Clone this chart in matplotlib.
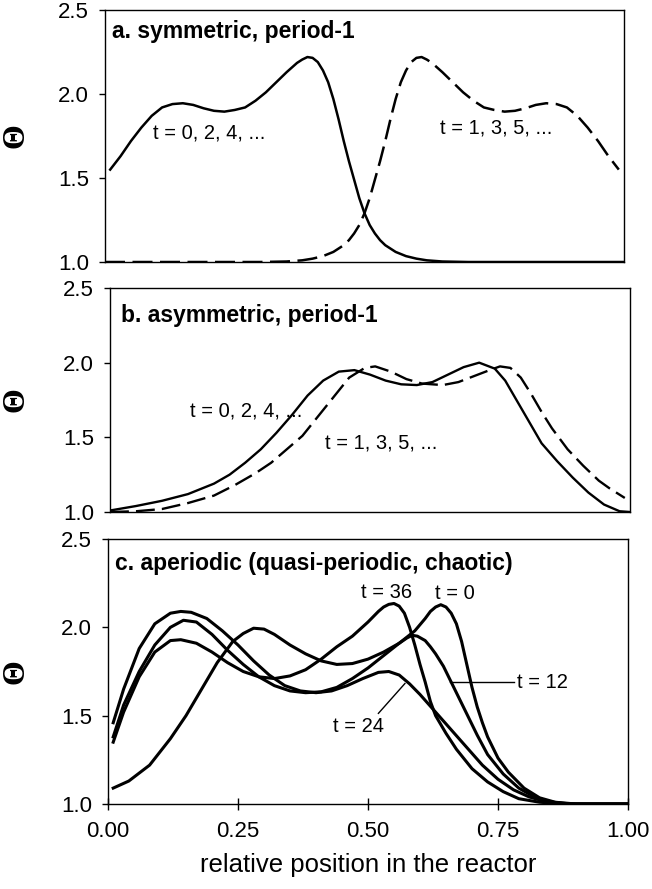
import matplotlib
matplotlib.use("Agg")
import matplotlib.pyplot as plt

plt.rcParams["font.family"] = ["Liberation Sans", "DejaVu Sans"]

# panel a: symmetric, period-1
xa_par = [0.01, 0.03, 0.05, 0.07, 0.09, 0.11, 0.13, 0.15, 0.17, 0.19, 0.21, 0.23, 0.25, 0.27, 0.29,
          0.31, 0.33, 0.35, 0.37, 0.38, 0.39, 0.40, 0.41, 0.42, 0.43, 0.44, 0.45, 0.46, 0.47, 0.48,
          0.49, 0.50, 0.51, 0.52, 0.53, 0.54, 0.56, 0.58, 0.60, 0.62, 0.65, 0.70, 0.80, 0.90, 1.00]
ya_par = [1.55, 1.63, 1.72, 1.80, 1.87, 1.92, 1.94, 1.945, 1.935, 1.915, 1.90, 1.895, 1.905, 1.92, 1.96,
          2.01, 2.07, 2.13, 2.185, 2.205, 2.22, 2.215, 2.19, 2.14, 2.07, 1.97, 1.85, 1.72, 1.60, 1.49,
          1.38, 1.29, 1.22, 1.17, 1.13, 1.10, 1.06, 1.035, 1.02, 1.01, 1.003, 1.0, 1.0, 1.0, 1.0]
xa_impar = [0.00, 0.10, 0.20, 0.30, 0.35, 0.38, 0.40, 0.42, 0.44, 0.46, 0.47, 0.48, 0.49, 0.50, 0.51,
            0.52, 0.53, 0.54, 0.55, 0.56, 0.57, 0.58, 0.59, 0.60, 0.61, 0.62, 0.63, 0.65, 0.67, 0.69,
            0.71, 0.73, 0.75, 0.77, 0.79, 0.81, 0.83, 0.85, 0.87, 0.89, 0.91, 0.93, 0.95, 0.97, 0.99]
ya_impar = [1.0, 1.0, 1.0, 1.0, 1.003, 1.01, 1.02, 1.035, 1.06, 1.10, 1.13, 1.17, 1.22, 1.29, 1.38,
            1.49, 1.60, 1.72, 1.85, 1.97, 2.07, 2.14, 2.19, 2.215, 2.22, 2.205, 2.185, 2.13, 2.07, 2.01,
            1.96, 1.92, 1.905, 1.895, 1.90, 1.915, 1.935, 1.945, 1.94, 1.92, 1.87, 1.80, 1.72, 1.63, 1.55]

# panel b: asymmetric, period-1
xb_par = [0.0, 0.05, 0.10, 0.15, 0.20, 0.23, 0.26, 0.29, 0.32, 0.35, 0.38, 0.41, 0.44, 0.47,
          0.50, 0.53, 0.56, 0.59, 0.62, 0.65, 0.68, 0.71, 0.74, 0.76, 0.78, 0.80, 0.83, 0.86,
          0.89, 0.92, 0.95, 0.98, 1.0]
yb_par = [1.01, 1.04, 1.075, 1.12, 1.19, 1.25, 1.33, 1.42, 1.53, 1.65, 1.78, 1.88, 1.94, 1.95,
          1.92, 1.88, 1.855, 1.85, 1.87, 1.92, 1.97, 2.0, 1.96, 1.88, 1.76, 1.64, 1.46, 1.34,
          1.23, 1.13, 1.05, 1.005, 1.0]
xb_impar = [0.0, 0.05, 0.10, 0.15, 0.20, 0.24, 0.28, 0.31, 0.34, 0.37, 0.40, 0.43, 0.46, 0.49,
            0.51, 0.54, 0.57, 0.60, 0.64, 0.67, 0.70, 0.73, 0.75, 0.77, 0.79, 0.81, 0.83, 0.85,
            0.88, 0.91, 0.94, 0.96, 0.99]
yb_impar = [1.0, 1.005, 1.02, 1.06, 1.11, 1.18, 1.26, 1.33, 1.42, 1.51, 1.64, 1.77, 1.90, 1.965,
            1.975, 1.94, 1.89, 1.86, 1.85, 1.87, 1.91, 1.95, 1.975, 1.965, 1.90, 1.79, 1.67, 1.56,
            1.42, 1.31, 1.21, 1.16, 1.094]

# panel c: aperiodic
xc_t0 = [0.01, 0.04, 0.08, 0.12, 0.15, 0.18, 0.21, 0.24, 0.26, 0.28, 0.30, 0.32, 0.35, 0.38, 0.41,
         0.44, 0.47, 0.50, 0.53, 0.56, 0.59, 0.61, 0.62, 0.63, 0.64, 0.65, 0.66, 0.67, 0.68, 0.69,
         0.70, 0.71, 0.72, 0.73, 0.75, 0.77, 0.80, 0.83, 0.86, 0.90, 1.0]
yc_t0 = [1.09, 1.13, 1.22, 1.37, 1.50, 1.65, 1.80, 1.92, 1.965, 1.995, 1.99, 1.96, 1.90, 1.85, 1.81,
         1.79, 1.795, 1.82, 1.86, 1.91, 1.98, 2.05, 2.09, 2.115, 2.128, 2.115, 2.08, 2.02, 1.92, 1.79,
         1.66, 1.55, 1.46, 1.38, 1.26, 1.18, 1.09, 1.035, 1.01, 1.0, 1.0]
xc_t12 = [0.01, 0.03, 0.06, 0.09, 0.12, 0.145, 0.17, 0.20, 0.23, 0.26, 0.29, 0.32, 0.35, 0.38,
          0.41, 0.44, 0.47, 0.50, 0.53, 0.56, 0.575, 0.585, 0.595, 0.61, 0.62, 0.63, 0.645, 0.66,
          0.675, 0.69, 0.71, 0.73, 0.76, 0.79, 0.82, 0.85, 0.89, 1.0]
yc_t12 = [1.38, 1.56, 1.75, 1.90, 2.00, 2.04, 2.03, 1.96, 1.87, 1.79, 1.72, 1.67, 1.64, 1.63,
          1.635, 1.66, 1.71, 1.77, 1.84, 1.91, 1.94, 1.955, 1.95, 1.925, 1.89, 1.85, 1.78, 1.69,
          1.60, 1.51, 1.39, 1.28, 1.17, 1.09, 1.04, 1.012, 1.0, 1.0]
xc_t24 = [0.01, 0.03, 0.06, 0.09, 0.12, 0.14, 0.16, 0.19, 0.22, 0.25, 0.28, 0.31, 0.34, 0.37,
          0.40, 0.43, 0.46, 0.49, 0.52, 0.54, 0.56, 0.58, 0.60, 0.63, 0.66, 0.69, 0.72, 0.75,
          0.78, 0.81, 0.84, 0.88, 1.0]
yc_t24 = [1.46, 1.65, 1.88, 2.02, 2.08, 2.09, 2.085, 2.05, 1.98, 1.90, 1.81, 1.73, 1.67, 1.64,
          1.63, 1.64, 1.67, 1.71, 1.745, 1.75, 1.73, 1.68, 1.62, 1.52, 1.42, 1.32, 1.22, 1.14,
          1.08, 1.04, 1.015, 1.0, 1.0]
xc_t36 = [0.01, 0.03, 0.06, 0.09, 0.12, 0.14, 0.17, 0.20, 0.23, 0.26, 0.29, 0.32, 0.35, 0.38,
          0.41, 0.44, 0.47, 0.50, 0.52, 0.53, 0.54, 0.55, 0.56, 0.57, 0.58, 0.59, 0.60, 0.61, 0.62,
          0.63, 0.65, 0.67, 0.70, 0.73, 0.76, 0.79, 0.83, 0.87, 0.92, 1.0]
yc_t36 = [1.35, 1.52, 1.72, 1.86, 1.925, 1.93, 1.91, 1.86, 1.80, 1.75, 1.72, 1.71, 1.725, 1.76,
          1.82, 1.89, 1.95, 2.03, 2.09, 2.115, 2.13, 2.135, 2.12, 2.08, 2.00, 1.90, 1.79, 1.69, 1.58,
          1.50, 1.40, 1.31, 1.20, 1.125, 1.07, 1.03, 1.01, 1.002, 1.0, 1.0]

y_ticks = [1.0, 1.5, 2.0, 2.5]
x_ticks = [0.0, 0.25, 0.5, 0.75, 1.0]
x_ticklabels = ["0.00", "0.25", "0.50", "0.75", "1.00"]

fig = plt.figure(figsize=(6.52, 8.89), dpi=100)
ax_a = fig.add_axes([105/652, 1-262/889, 519/652, 252/889])
ax_b = fig.add_axes([110/652, 1-512/889, 520/652, 224/889])
ax_c = fig.add_axes([108/652, 1-804/889, 520/652, 265/889])

guiones = (0, (8, 3))
fs_t = 14.5

ax_a.plot(xa_par, ya_par, color="black", lw=1.8)
ax_a.plot(xa_impar, ya_impar, color="black", lw=1.8, linestyle=guiones)
ax_a.text(0.092, 1.77, "t = 0, 2, 4, ...", fontsize=fs_t, va="center")
ax_a.text(0.645, 1.80, "t = 1, 3, 5, ...", fontsize=fs_t, va="center")

ax_b.plot(xb_par, yb_par, color="black", lw=1.7)
ax_b.plot(xb_impar, yb_impar, color="black", lw=1.7, linestyle=guiones)
ax_b.text(0.153, 1.676, "t = 0, 2, 4, ...", fontsize=fs_t, va="center")
ax_b.text(0.413, 1.463, "t = 1, 3, 5, ...", fontsize=fs_t, va="center")

for xs, ys in [(xc_t0, yc_t0), (xc_t12, yc_t12), (xc_t24, yc_t24), (xc_t36, yc_t36)]:
    ax_c.plot(xs, ys, color="black", lw=2.2)
ax_c.text(0.536, 2.196, "t = 36", fontsize=fs_t, ha="center", va="center")
ax_c.text(0.667, 2.19, "t = 0", fontsize=fs_t, ha="center", va="center")
ax_c.text(0.481, 1.437, "t = 24", fontsize=fs_t, ha="center", va="center")
ax_c.plot([0.52, 0.571], [1.513, 1.682], color="black", lw=1.0)
ax_c.text(0.786, 1.69, "t = 12", fontsize=fs_t, ha="left", va="center")
ax_c.plot([0.658, 0.78], [1.69, 1.69], color="black", lw=1.0)

titulos = ["a. symmetric, period-1", "b. asymmetric, period-1",
           "c. aperiodic (quasi-periodic, chaotic)"]
pos_titulo = [(0.014, 0.913), (0.021, 0.879), (0.013, 0.909)]
etiqueta_x = [-0.171, -0.181, -0.177]

for ax, titulo, pos, lx in zip([ax_a, ax_b, ax_c], titulos, pos_titulo, etiqueta_x):
    ax.set_xlim(0, 1)
    ax.set_ylim(1.0, 2.5)
    ax.set_yticks(y_ticks)
    ax.set_yticklabels(["%.1f" % v for v in y_ticks], fontsize=16)
    ax.tick_params(axis="y", direction="out", length=4.5, width=1.0, pad=7)
    for s in ax.spines.values():
        s.set_linewidth(1.0)
    ax.text(pos[0], pos[1], titulo, transform=ax.transAxes, fontsize=16.5,
            fontweight="bold", ha="left", va="center")
    ax.set_ylabel("\u0398", family=["Liberation Serif"], fontweight="bold",
                  fontsize=23, va="center")
    ax.yaxis.set_label_coords(lx, 0.5)

ax_a.set_xticks([])
ax_b.set_xticks([])
ax_c.set_xticks(x_ticks)
ax_c.set_xticklabels(x_ticklabels, fontsize=16)
ax_c.tick_params(axis="x", direction="inout", length=8, width=1.0, pad=8)
ax_c.set_xlabel("relative position in the reactor", fontsize=18.5, labelpad=8)

plt.savefig("out.png", dpi=100)
print("Grafica out.png creada")
